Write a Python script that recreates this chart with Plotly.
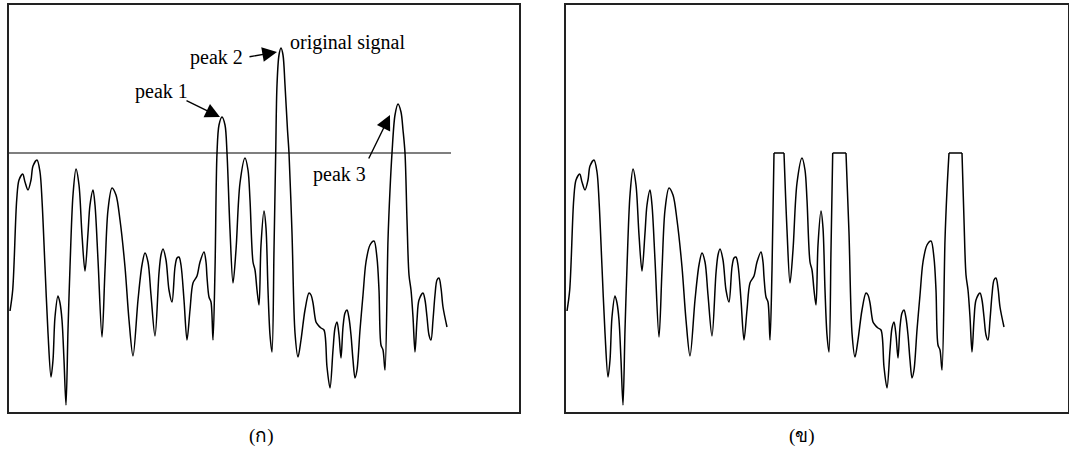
import numpy as np
import plotly.graph_objects as go

# Signal samples (sample index, amplitude)
sample = [1, 3.7, 7.7, 10, 13.7, 16, 19, 22, 24, 28, 31, 33, 36, 39, 42, 44, 46, 49, 51, 53,
          55, 57, 59, 61, 64, 67, 70, 73, 76, 79, 81, 84, 86, 89, 93, 96, 99, 103, 107, 111,
          116, 120, 124, 129, 133, 136, 139, 142, 146, 150, 152, 154, 157, 160, 163, 166, 168, 170, 172, 175,
          178, 181, 184, 188, 191, 195, 197, 198, 200, 202, 204, 206, 208, 210, 213, 216, 218, 221, 224, 227,
          231, 236, 239, 241, 244, 246, 248, 250, 252, 255, 257, 259, 261, 263, 265, 266.7, 268, 270, 272, 274,
          276, 278.5, 280, 283, 286, 289, 292, 296, 300, 302, 304, 307, 309, 312, 315, 318, 321, 324, 326, 328,
          330, 332, 334, 336, 338, 340, 342, 344, 346, 348, 351, 354, 357, 361, 365, 368, 370, 372, 374, 376,
          379, 381, 383, 386, 389, 392, 394, 396, 398, 400, 402, 404, 406, 408, 410, 414, 416, 418, 420, 422,
          424, 426, 428, 430, 432, 434, 438]
amplitude = [101, 122, 212, 232, 238, 230, 222, 232, 246, 252, 240, 212, 145, 79, 35, 52, 95, 116, 109, 92,
             52, 7, 82, 145, 217, 243, 227, 177, 141, 179, 207, 222, 207, 152, 75, 142, 202, 224, 217, 192,
             145, 92, 56, 112, 147, 159, 150, 117, 76, 139, 157, 163, 152, 122, 110, 145, 154, 155, 147, 112,
             72, 102, 129, 136, 150, 160, 150, 135, 115, 110, 72, 142, 259, 287, 295, 287, 259, 182, 129, 162,
             229, 254, 242, 212, 150, 142, 122, 107, 167, 201, 184, 122, 77, 60, 162, 259, 327, 357, 364, 357,
             327, 282, 259, 179, 79, 55, 72, 102, 119, 117, 109, 90, 87, 84, 82, 45, 24, 62, 84, 90,
             77, 54, 85, 99, 102, 94, 77, 52, 34, 42, 82, 117, 150, 167, 171, 154, 122, 67, 62, 42,
             172, 222, 259, 297, 308, 300, 282, 259, 192, 137, 122, 95, 60, 92, 112, 119, 112, 95, 77, 72,
             92, 117, 132, 134, 124, 105, 85]

threshold = 259
threshold_span = [0, 442]

panel_labels = ["(ก)", "(ข)"]
peak_labels = ["peak 1", "peak 2", "peak 3"]
signal_label = "original signal"

W, H = 1069, 450
SERIF = "Liberation Serif, Times New Roman, serif"

x = np.array(sample, dtype=float)
y = np.array(amplitude, dtype=float)

# Clipped signal: parts below the threshold stay smooth, plateaus are straight
below = np.where(y <= threshold, y, np.nan)
plateau = np.where(y >= threshold, np.minimum(y, threshold), np.nan)

fig = go.Figure()

line_style = dict(color="black", width=1.5)

fig.add_trace(go.Scatter(x=x, y=y, mode="lines", line=dict(shape="spline", smoothing=0.9, **line_style),
                         xaxis="x", yaxis="y", showlegend=False, hoverinfo="skip"))
fig.add_trace(go.Scatter(x=threshold_span, y=[threshold, threshold], mode="lines",
                         line=dict(color="black", width=1.2), xaxis="x", yaxis="y",
                         showlegend=False, hoverinfo="skip"))

fig.add_trace(go.Scatter(x=x, y=below, mode="lines", connectgaps=False,
                         line=dict(shape="spline", smoothing=0.9, **line_style),
                         xaxis="x2", yaxis="y2", showlegend=False, hoverinfo="skip"))
fig.add_trace(go.Scatter(x=x, y=plateau, mode="lines", connectgaps=False,
                         line=dict(shape="linear", **line_style),
                         xaxis="x2", yaxis="y2", showlegend=False, hoverinfo="skip"))

box = dict(showline=True, mirror=True, linecolor="#222", linewidth=2, showgrid=False,
           zeroline=False, showticklabels=False, ticks="")
y_dom = [38 / H, 445 / H]

fig.update_layout(
    width=W, height=H, margin=dict(l=0, r=0, t=0, b=0),
    paper_bgcolor="white", plot_bgcolor="white",
    xaxis=dict(domain=[9 / W, 519 / W], range=[0, 510], **box),
    yaxis=dict(domain=y_dom, range=[0, 407], **box),
    xaxis2=dict(domain=[566 / W, 1068 / W], range=[0, 502], anchor="y2", **box),
    yaxis2=dict(domain=y_dom, range=[0, 407], anchor="x2", **box),
)

txt = dict(family=SERIF, size=20, color="black")
arrow = dict(showarrow=True, arrowhead=2, arrowsize=2.1, arrowwidth=1.4, arrowcolor="black",
             axref="x", ayref="y", xref="x", yref="y", text="", standoff=0)

# Arrows pointing at the three peaks above the threshold
fig.add_annotation(x=211, y=295, ax=176, ay=312, **arrow)
fig.add_annotation(x=268, y=360, ax=239, ay=355, **arrow)
fig.add_annotation(x=381, y=297, ax=359, ay=252, **arrow)

fig.add_annotation(x=152, y=320, text=peak_labels[0], showarrow=False, font=txt, xref="x", yref="y")
fig.add_annotation(x=207.5, y=354, text=peak_labels[1], showarrow=False, font=txt, xref="x", yref="y")
fig.add_annotation(x=330.5, y=237, text=peak_labels[2], showarrow=False, font=txt, xref="x", yref="y")
fig.add_annotation(x=279, y=369, text=signal_label, showarrow=False, font=txt, xref="x", yref="y",
                   xanchor="left")

label_font = dict(family=SERIF, size=19, color="black")
fig.add_annotation(x=247 / W, y=(H - 436) / H, text=panel_labels[0], showarrow=False, font=label_font,
                   xref="paper", yref="paper", yanchor="middle")
fig.add_annotation(x=817 / W, y=(H - 436) / H, text=panel_labels[1], showarrow=False, font=label_font,
                   xref="paper", yref="paper", yanchor="middle")

fig.write_html("out.html")
